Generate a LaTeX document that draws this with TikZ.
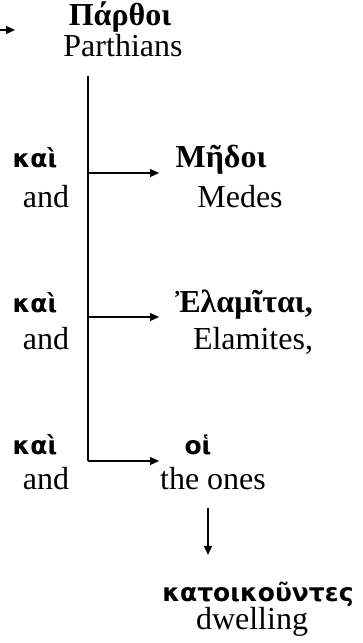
\documentclass[tikz,border=0pt]{standalone}
\usepackage{fontspec}
\setmainfont{Liberation Serif}
\newfontfamily\grsans{DejaVu Sans}
\usetikzlibrary{arrows.meta}

\tikzset{
  wort/.style={anchor=base,inner sep=0pt,font=\fontsize{32}{38}\selectfont},
  griech/.style={anchor=base,inner sep=0pt,font=\fontsize{32}{38}\selectfont\bfseries},
  partikel/.style={anchor=base,inner sep=0pt,font=\fontsize{25}{30}\selectfont\grsans\bfseries},
  pfeil/.style={-{Triangle[length=9pt,width=8pt]},line width=1.3pt}
}

\begin{document}
\begin{tikzpicture}[x=1pt,y=1pt]
  \useasboundingbox (0,0) rectangle (363,643);

  % Kopf
  \node[griech] (parthoi) at (120,617) {Πάρθοι};
  \node[wort] (parthians) at (123,586) {Parthians};

  % linke Spalte
  \node[partikel] (kai1) at (35,475) {καὶ};
  \node[wort] (and1) at (46,435) {and};
  \node[partikel] (kai2) at (35,330) {καὶ};
  \node[wort] (and2) at (46,293) {and};
  \node[partikel] (kai3) at (35,188) {καὶ};
  \node[wort] (and3) at (46,153) {and};

  % rechte Spalte
  \node[griech] (medoi) at (221,475) {Μῆδοι};
  \node[wort] (medes) at (240,435) {Medes};
  \node[griech] (elamitai) at (244,330) {Ἐλαμῖται,};
  \node[wort] (elamites) at (253,293) {Elamites,};
  \node[partikel] (hoi) at (198,188) {οἱ};
  \node[wort] (theones) at (213,153) {the ones};
  \node[partikel] (katoik) at (258,41) {κατοικοῦντες};
  \node[wort] (dwelling) at (252,13) {dwelling};

  % Stamm
  \coordinate (start) at (0,613);
  \coordinate (einlauf) at (15,613);
  \coordinate (oben) at (88,567);
  \coordinate (unten) at (88,182);
  \draw[pfeil] (start) -- (einlauf);
  \draw[line width=1.3pt] (oben) -- (unten);

  % Aeste
  \coordinate (ast1) at (88,470);
  \coordinate (ast2) at (88,326);
  \coordinate (ziel1) at (159,470);
  \coordinate (ziel2) at (159,326);
  \coordinate (ziel3) at (159,182);
  \draw[pfeil] (ast1) -- (ziel1);
  \draw[pfeil] (ast2) -- (ziel2);
  \draw[pfeil] (unten) -- (ziel3);

  % Partizip
  \coordinate (abzweig) at (208,135);
  \coordinate (partizip) at (208,88);
  \draw[pfeil] (abzweig) -- (partizip);
\end{tikzpicture}
\end{document}
